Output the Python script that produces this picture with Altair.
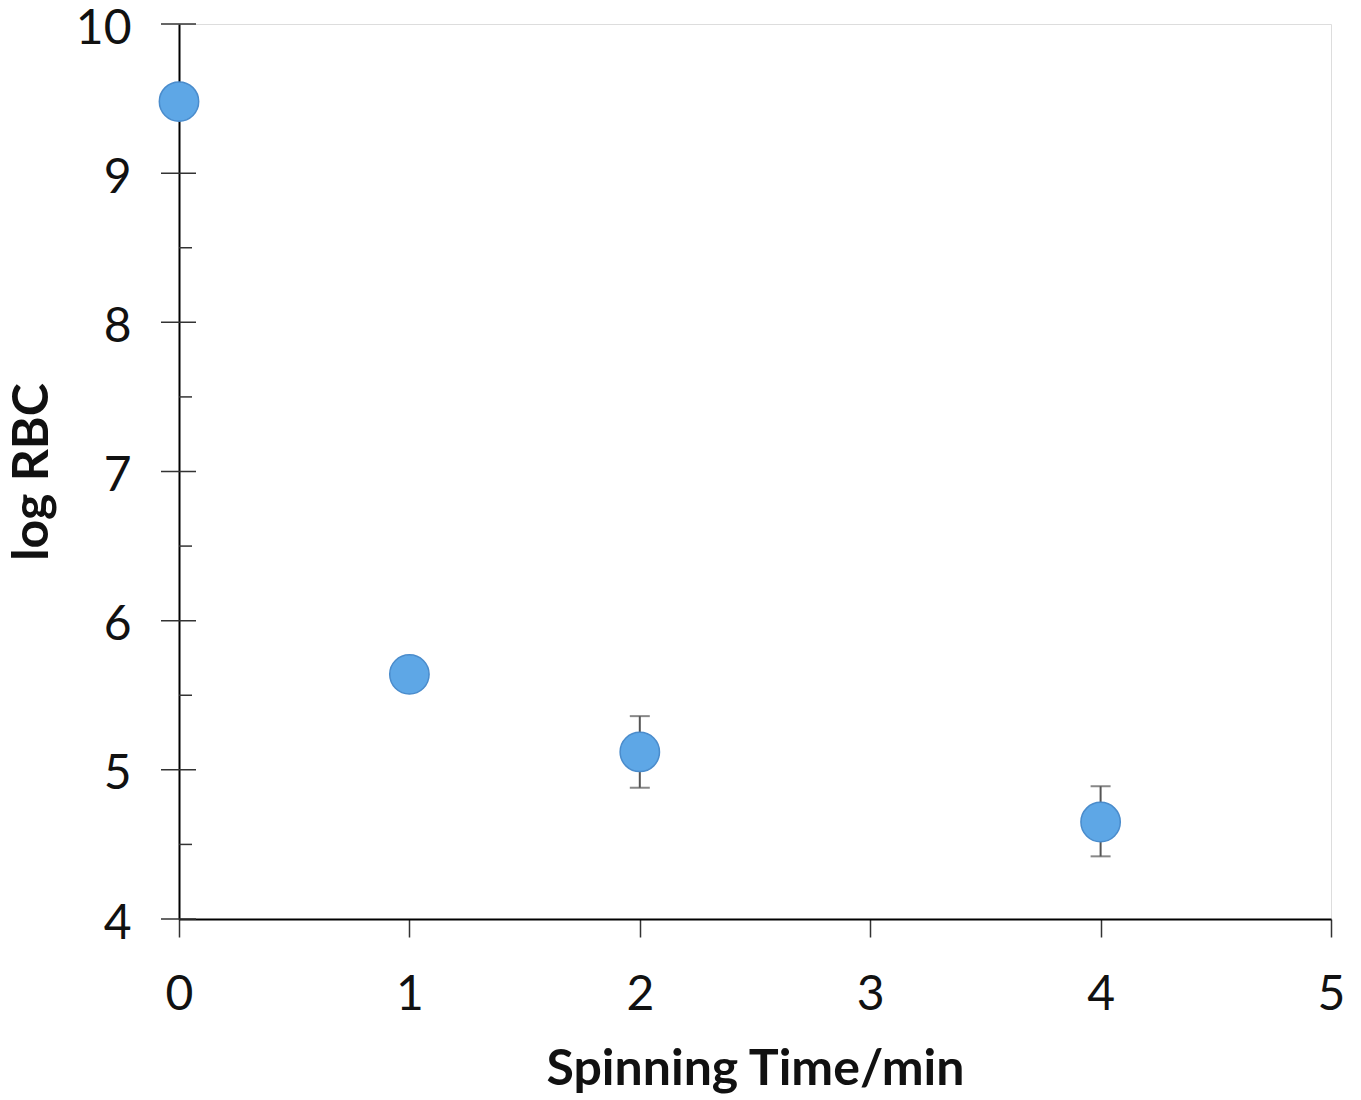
import altair as alt
import pandas as pd

# Data
times = [0, 1, 2, 4]
log_rbc = [9.48, 5.64, 5.12, 4.65]
err_low = [9.48, 5.64, 4.88, 4.42]
err_high = [9.48, 5.64, 5.36, 4.89]

major_y = [4, 5, 6, 7, 8, 9, 10]
minor_y = [4.5, 5.5, 6.5, 7.5, 8.5, 9.5]

df = pd.DataFrame({"t": times, "v": log_rbc, "lo": err_low, "hi": err_high})
df_err = df[df["lo"] != df["hi"]]
df_major = pd.DataFrame({"y": major_y})
df_minor = pd.DataFrame({"y": minor_y})

FONT = "Lato"

xs = alt.Scale(domain=[0, 5], nice=False, zero=False)
ys = alt.Scale(domain=[4, 10], nice=False, zero=False)

x_axis = alt.Axis(
    title="Spinning Time/min", values=[0, 1, 2, 3, 4, 5], format="d",
    tickSize=18, tickColor="#333", tickWidth=1.5, labelFlush=False,
    domainColor="#000", domainWidth=2,
    labelFontSize=48, labelFont=FONT, labelColor="#111", labelPadding=34,
    titleFontSize=50, titleFont=FONT, titleFontWeight="bold", titleColor="#111",
    titlePadding=25, grid=False,
)
y_axis = alt.Axis(
    title="log RBC", values=major_y, format="d",
    ticks=False, domainColor="#000", domainWidth=2, labelFlush=False,
    labelOffset=5,
    labelFontSize=48, labelFont=FONT, labelColor="#111", labelPadding=48,
    titleFontSize=50, titleFont=FONT, titleFontWeight="bold", titleColor="#111",
    titlePadding=18, grid=False,
)

base = alt.Chart(df)

major_ticks = alt.Chart(df_major).mark_rule(color="#333", strokeWidth=1.5).encode(
    y=alt.Y("y:Q", scale=ys, axis=y_axis),
    x=alt.value(-18), x2=alt.value(17),
)
minor_ticks = alt.Chart(df_minor).mark_rule(color="#333", strokeWidth=1.5).encode(
    y=alt.Y("y:Q", scale=ys),
    x=alt.value(0), x2=alt.value(13),
)

err_rules = alt.Chart(df_err).mark_rule(color="#555", strokeWidth=2).encode(
    x=alt.X("t:Q", scale=xs, axis=x_axis),
    y=alt.Y("lo:Q", scale=ys),
    y2="hi:Q",
)
cap_lo = alt.Chart(df_err).mark_tick(color="#555", orient="horizontal", size=20, thickness=2).encode(
    x=alt.X("t:Q", scale=xs), y=alt.Y("lo:Q", scale=ys),
)
cap_hi = alt.Chart(df_err).mark_tick(color="#555", orient="horizontal", size=20, thickness=2).encode(
    x=alt.X("t:Q", scale=xs), y=alt.Y("hi:Q", scale=ys),
)

points = base.mark_point(
    filled=True, shape="circle", size=1550, fill="#5ea7e6", stroke="#4a8ccc",
    strokeWidth=1.5, opacity=1,
).encode(
    x=alt.X("t:Q", scale=xs, axis=x_axis),
    y=alt.Y("v:Q", scale=ys, axis=y_axis),
)

chart = alt.layer(major_ticks, minor_ticks, err_rules, cap_lo, cap_hi, points).properties(
    width=1152, height=895,
    autosize=alt.AutoSizeParams(type="none"),
    padding={"left": 171, "top": 16, "right": 20, "bottom": 180},
).configure_view(stroke="#444", strokeWidth=2.5).configure(background="white")

chart.save("out.html", embed_options={"renderer": "svg", "actions": False})
